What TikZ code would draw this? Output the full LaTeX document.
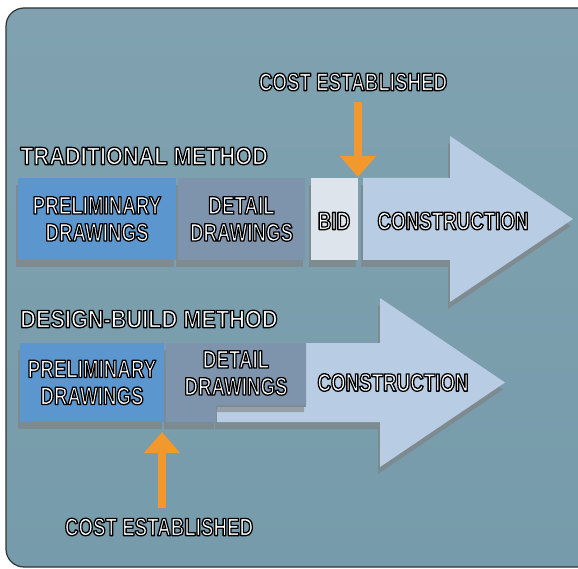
\documentclass[tikz,border=0pt]{standalone}
\usepackage{fontspec}
\usepackage{xcolor}
\usetikzlibrary{shadows}
\usetikzlibrary{arrows.meta}
\newfontfamily\headfont[FakeStretch=0.87]{Liberation Sans}
\newfontfamily\boxfont[FakeStretch=0.75]{Liberation Sans}
\definecolor{steel}{RGB}{118,155,170}
\definecolor{steeltop}{RGB}{128,162,176}
\definecolor{prelimblue}{RGB}{91,150,206}
\definecolor{detailgray}{RGB}{126,148,173}
\definecolor{bidwhite}{RGB}{221,228,236}
\definecolor{buildblue}{RGB}{184,204,227}
\definecolor{costorange}{RGB}{243,152,45}
\newcommand\inked{\special{pdf:literal direct 0 0 0 RG 1.3 w 1 j 2 Tr}}
\begin{document}
\begin{tikzpicture}[x=1pt, y=-1pt,
  outlined/.style={text=white, inner sep=0pt, align=center},
  heading/.style={outlined, font=\headfont\bfseries\fontsize{25}{27}\selectfont},
  label/.style={outlined, font=\boxfont\bfseries\fontsize{25}{27}\selectfont},
  stage/.style={drop shadow={shadow xshift=-2pt, shadow yshift=-7pt, opacity=.6}},
  costarrow/.style={draw=costorange, line width=8pt,
    -{Triangle[width=35pt, length=21pt]}}]
\useasboundingbox (0,0) rectangle (578,569);
\fill[white] (0,0) rectangle (578,569);
\shade[top color=steeltop, bottom color=steel, draw=black!80, line width=1.2pt,
       rounded corners=18pt] (6,8) rectangle (600,567);

\node [heading, anchor=west] (tradhead) at (20,156) {\inked TRADITIONAL METHOD};
\node [stage, fill=prelimblue, minimum width=158pt, minimum height=82pt, inner sep=0pt]
       (tradprelim) at (97,219) {};
\node [stage, fill=detailgray, minimum width=127pt, minimum height=82pt, inner sep=0pt]
       (traddetail) at (241.5,219) {};
\node [stage, fill=bidwhite, minimum width=47pt, minimum height=82pt, inner sep=0pt]
       (tradbid) at (334.5,219) {};
\fill [stage, buildblue] (363,178) -- (450,178) -- (450,136) -- (573,219)
       -- (450,302) -- (450,260) -- (363,260) -- cycle;
\node [label] (tradprelimtext) at (tradprelim) {\inked PRELIMINARY\\DRAWINGS};
\node [label] (traddetailtext) at (traddetail) {\inked DETAIL\\DRAWINGS};
\node [label] (tradbidtext) at (334,221) {\inked BID};
\node [label] (tradbuildtext) at (453,221) {\inked CONSTRUCTION};
\node [label] (tradcost) at (353,82) {\inked COST ESTABLISHED};
\coordinate (tradtip) at (358,177);
\draw [costarrow, shorten <=11pt] (tradcost.south -| tradtip) -- (tradtip);

\node [heading, anchor=west] (dbhead) at (20,319) {\inked DESIGN-BUILD METHOD};
\fill [stage, buildblue] (306,343) -- (380,343) -- (380,298) -- (505,382.5)
       -- (380,467) -- (380,422) -- (217,422) -- (217,407) -- (306,407) -- cycle;
\node [stage, fill=prelimblue, minimum width=144pt, minimum height=79pt, inner sep=0pt]
       (dbprelim) at (92,382.5) {};
\fill [stage, detailgray] (166,343) -- (306,343) -- (306,405) -- (216,405)
       -- (216,422) -- (166,422) -- cycle;
\node [label] (dbprelimtext) at (dbprelim) {\inked PRELIMINARY\\DRAWINGS};
\node [label] (dbdetailtext) at (236,373) {\inked DETAIL\\DRAWINGS};
\node [label] (dbbuildtext) at (393,382.5) {\inked CONSTRUCTION};
\node [label] (dbcost) at (159,527) {\inked COST ESTABLISHED};
\coordinate (dbtip) at (162,432);
\draw [costarrow, shorten <=10pt] (dbcost.north -| dbtip) -- (dbtip);
\end{tikzpicture}
\end{document}
